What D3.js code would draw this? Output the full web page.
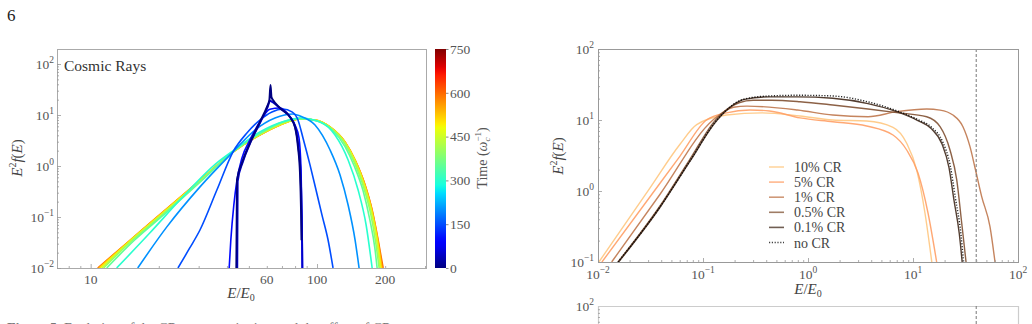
<!DOCTYPE html>
<html>
<head>
<meta charset="utf-8">
<script src="https://cdn.jsdelivr.net/npm/d3@7"></script>
<style>
  body { margin: 0; background: #fff; }
</style>
</head>
<body>
<svg id="fig" width="1032" height="324" font-family="Liberation Serif, DejaVu Serif, Noto Serif, serif" style="font-family: 'Liberation Serif', 'DejaVu Serif', serif"></svg>
<script>
// ---- left panel: CR spectra at successive times, [E/E0, E^2 f(E)]
const crTimes = [600, 550, 500, 450, 400, 350, 300, 200, 150, 100, 50, 0];

const cr_t600 = [[10.74,0.01],[14.88,0.0346],[20.2,0.111],[30.4,0.522],[42.5,1.88],[55.9,4.05],[68.6,6.37],[84.1,8.35],[98.0,7.98],[114.2,5.82],[133.0,2.96],[147.3,1.31],[163.1,0.424],[175.2,0.137],[186.2,0.0354],[195.9,0.01]];
const cr_t550 = [[10.85,0.01],[14.95,0.035],[20.3,0.111],[30.45,0.522],[42.5,1.88],[55.9,4.07],[68.7,6.4],[84.1,8.36],[98.1,7.97],[114.2,5.8],[133.0,2.94],[147.3,1.3],[163.0,0.42],[175.0,0.135],[185.7,0.035],[194.0,0.01]];
const cr_t500 = [[10.98,0.01],[15.0,0.035],[20.35,0.111],[30.5,0.522],[42.5,1.88],[55.9,4.1],[68.8,6.45],[84.1,8.38],[98.2,7.95],[114.3,5.78],[133.0,2.92],[147.2,1.29],[162.6,0.41],[174.6,0.13],[185.0,0.034],[192.0,0.01]];
const cr_t450 = [[11.2,0.01],[15.1,0.035],[20.5,0.11],[30.6,0.52],[42.5,1.89],[55.9,4.15],[69.0,6.6],[84.1,8.4],[98.5,7.9],[114.5,5.7],[133.0,2.85],[147.0,1.25],[162.0,0.40],[174.0,0.125],[184.0,0.033],[190.0,0.01]];
const cr_t400 = [[11.4,0.01],[15.3,0.035],[20.7,0.11],[30.8,0.52],[42.5,1.9],[55.9,4.25],[69.5,6.9],[84.1,8.5],[99.0,7.8],[115.0,5.5],[133.0,2.7],[146.5,1.15],[161.0,0.37],[173.0,0.11],[182.0,0.03],[188.1,0.01]];
const cr_t350 = [[11.77,0.01],[15.6,0.035],[21.0,0.11],[31.0,0.52],[42.5,1.92],[55.9,4.35],[70.0,7.2],[84.1,8.6],[100.0,7.6],[116.0,5.2],[133.0,2.4],[146.0,1.0],[160.0,0.32],[171.0,0.09],[180.0,0.025],[184.3,0.01]];
const cr_t300 = [[13.03,0.01],[18.24,0.0485],[25.5,0.247],[36.1,1.15],[42.5,1.97],[55.9,4.64],[72.2,7.62],[84.1,8.73],[103.1,7.29],[120.1,4.05],[137.2,1.31],[151.9,0.338],[164.8,0.0697],[175.2,0.01]];
const cr_t200 = [[16.14,0.01],[21.7,0.064],[30.4,0.39],[42.5,1.88],[53.2,5.08],[65.2,8.73],[78.3,10.5],[84.1,9.56],[98.0,6.37],[114.2,2.06],[126.4,0.667],[137.2,0.172],[147.3,0.0354],[153.4,0.01]];
const cr_t150 = [[24.3,0.01],[27.4,0.0247],[30.4,0.0556],[36.1,0.338],[42.5,1.88],[49.0,4.44],[55.9,7.98],[63.2,11.5],[70.7,13.1],[77.5,11.5],[82.4,7.98],[86.7,3.54],[93.1,1.05],[99.0,0.338],[105.2,0.109],[111.9,0.0354],[117.7,0.01]];
const cr_t100 = [[40.8,0.008],[41.6,0.035],[42.9,0.172],[44.3,0.531],[46.6,1.44],[50.5,3.24],[55.9,7.29],[61.9,13.0],[68.6,13.7],[75.9,9.3],[79.9,6.4],[83.2,3.6],[85.0,0.835],[85.8,0.0873],[86.3,0.008]];
const cr_t50 = [[44.4,0.008],[44.6,0.5],[47.0,1.2],[50.8,2.9],[56.2,7.3],[60.3,13.8],[62.0,19.0],[63.5,18.0],[68.8,13.5],[76.2,9.0],[80.2,5.7],[82.8,2.3],[84.6,0.7],[85.5,0.13],[85.9,0.03],[86.1,0.008]];
const cr_t0 = [[44.0,0.008],[44.3,0.53],[46.6,1.15],[50.5,2.82],[55.9,7.29],[60.1,14.4],[61.6,19.7],[62.3,38.7],[62.9,22.5],[63.9,19.7],[68.6,13.7],[75.9,9.14],[79.9,5.82],[82.4,2.36],[84.1,0.73],[85.0,0.137],[85.4,0.035]];

const crSeries = [cr_t600, cr_t550, cr_t500, cr_t450, cr_t400, cr_t350, cr_t300, cr_t200, cr_t150, cr_t100, cr_t50, cr_t0];

const leftXTicks = [10, 60, 100, 200];
const leftYExps = [-2, -1, 0, 1, 2];
const cbarTicks = [0, 150, 300, 450, 600, 750];

// ---- right panel: spectra for different CR fractions
const frac10 = [[0.0102,0.1],[0.0313,1.11],[0.0604,4.56],[0.0871,8.6],[0.1675,11.75],[0.365,12.6],[0.839,11.4],[1.72,10.0],[3.62,9.68],[6.45,7.89],[8.71,4.70],[10.84,1.98],[13.0,0.49],[15.1,0.1]];
const frac5 = [[0.0109,0.1],[0.0313,0.83],[0.0604,3.1],[0.108,10.0],[0.1675,12.6],[0.28,13.8],[0.43,13.4],[0.839,10.7],[1.72,9.46],[3.62,8.23],[6.45,6.15],[8.71,3.78],[11.16,1.79],[13.9,0.49],[16.8,0.1]];
const frac1 = [[0.0135,0.1],[0.039,0.9],[0.1245,10.0],[0.195,15.1],[0.262,15.7],[0.794,13.8],[1.72,11.75],[3.73,11.1],[7.0,13.1],[13.5,14.3],[18.1,13.8],[24.0,11.75],[29.9,8.05],[34.9,4.21],[39.0,2.11],[45.1,0.832],[54.1,0.314],[60.4,0.1]];
const frac05 = [[0.0155,0.1],[0.0385,0.6],[0.074,2.7],[0.133,10.2],[0.22,17.5],[0.3,19.0],[0.45,19.0],[0.84,18.1],[1.72,16.3],[3.73,14.3],[7.0,12.7],[13.5,11.1],[18.1,8.05],[22.5,3.78],[26.1,1.43],[29.1,0.354],[32.0,0.1]];
const frac01 = [[0.0157,0.1],[0.039,0.59],[0.0752,2.63],[0.136,9.9],[0.249,19.5],[0.427,21.2],[0.794,21.2],[1.72,20.2],[3.73,17.0],[7.0,13.1],[11.0,9.9],[15.0,7.5],[18.9,4.6],[22.0,2.15],[24.6,0.73],[27.6,0.25],[29.4,0.1]];
const fracNone = [[0.0155,0.1],[0.039,0.6],[0.0752,2.66],[0.136,10.1],[0.249,19.8],[0.427,21.8],[0.794,22.3],[1.72,21.8],[3.73,18.0],[7.0,13.5],[11.0,10.2],[15.0,7.9],[19.2,4.9],[22.6,2.3],[25.4,0.78],[28.5,0.26],[30.3,0.1]];

const fracLabels = ["10% CR", "5% CR", "1% CR", "0.5% CR", "0.1% CR", "no CR"];
const fracSeries = [frac10, frac5, frac1, frac05, frac01, fracNone];
const fracColors = ["#ffc77f", "#ff9f65", "#bf774c", "#7f5032", "#402819", "#000000"];
const cutoffE = 40;

const rightXExps = [-2, -1, 0, 1, 2];
const rightYExps = [-1, 0, 1, 2];

const SERIF = "'Liberation Serif', 'DejaVu Serif', serif";

// ---- helpers
const svg = d3.select("#fig");
svg.append("rect").attr("width", 1032).attr("height", 324).attr("fill", "#fff");

// matplotlib "jet"
const jetR = d3.scaleLinear().domain([0, 0.35, 0.66, 0.89, 1]).range([0, 0, 1, 1, 0.5]).clamp(true);
const jetG = d3.scaleLinear().domain([0, 0.125, 0.375, 0.64, 0.91, 1]).range([0, 0, 1, 1, 0, 0]).clamp(true);
const jetB = d3.scaleLinear().domain([0, 0.11, 0.34, 0.65, 1]).range([0.5, 1, 1, 0, 0]).clamp(true);
const jet = t => d3.rgb(jetR(t) * 255, jetG(t) * 255, jetB(t) * 255).formatHex();

function minorsFor(exps) {
  const out = [];
  exps.forEach(k => { for (let m = 2; m <= 9; m++) out.push(m * Math.pow(10, k)); });
  return out;
}

function txt(parent) {
  return parent.append("text").style("font-family", SERIF);
}

function powLabel(sel, exp) {
  sel.append("tspan").text("10");
  sel.append("tspan").attr("dy", -6).attr("font-size", 9.5).text(String(exp).replace("-", "\u2212"));
}

function frame(box, color) {
  svg.append("rect")
    .attr("x", box.x0 + 0.5).attr("y", box.y0 + 0.5)
    .attr("width", box.x1 - box.x0).attr("height", box.y1 - box.y0)
    .attr("fill", "none").attr("stroke", color || "#aaa").attr("stroke-width", 1);
}

function tickAxis(axis, transform) {
  svg.append("g").attr("transform", transform)
    .call(axis)
    .call(g => g.select(".domain").remove())
    .call(g => g.selectAll(".tick line").attr("stroke", "#999").attr("stroke-width", 0.8));
}

// ================= LEFT PANEL =================
const L = {x0: 57, x1: 426, y0: 49, y1: 268};
const xL = d3.scaleLog().domain([7.1, 303]).range([L.x0, L.x1]);
const yL = d3.scaleLog().domain([0.01, 197]).range([L.y1, L.y0]);

svg.append("clipPath").attr("id", "clipL")
  .append("rect").attr("x", L.x0).attr("y", L.y0).attr("width", L.x1 - L.x0).attr("height", L.y1 - L.y0);

const lineL = d3.line().x(d => xL(d[0])).y(d => yL(d[1])).curve(d3.curveMonotoneX);

svg.append("g").attr("clip-path", "url(#clipL)")
  .selectAll("path").data(crSeries).join("path")
    .attr("d", lineL)
    .attr("fill", "none")
    .attr("stroke", (d, i) => jet(crTimes[i] / 750))
    .attr("stroke-width", (d, i) => crTimes[i] <= 50 ? 2 : 1.6)
    .attr("stroke-linejoin", "round");

frame(L);

// ticks (inward)
tickAxis(d3.axisBottom(xL).tickValues([10, 100]).tickSize(-4).tickFormat(""), `translate(0,${L.y1})`);
tickAxis(d3.axisBottom(xL).tickValues([8, 9, 20, 30, 40, 50, 60, 70, 80, 90, 200, 300]).tickSize(-2).tickFormat(""), `translate(0,${L.y1})`);
tickAxis(d3.axisLeft(yL).tickValues(leftYExps.map(k => Math.pow(10, k))).tickSize(-4).tickFormat(""), `translate(${L.x0},0)`);
tickAxis(d3.axisLeft(yL).tickValues(minorsFor([-2, -1, 0, 1]).concat([100])).tickSize(-2).tickFormat(""), `translate(${L.x0},0)`);

svg.append("g").selectAll("text").data(leftXTicks).join("text")
  .style("font-family", SERIF)
  .attr("x", d => xL(d)).attr("y", 284)
  .attr("text-anchor", "middle").attr("font-size", 13.5).attr("fill", "#555")
  .text(d => d);

svg.append("g").selectAll("text").data(leftYExps).join("text")
  .style("font-family", SERIF)
  .attr("x", 54).attr("y", d => yL(Math.pow(10, d)) + 5)
  .attr("text-anchor", "end").attr("font-size", 13.5).attr("fill", "#555")
  .each(function(d) { powLabel(d3.select(this), d); });

txt(svg).attr("x", 64).attr("y", 71).attr("font-size", 15.5).attr("fill", "#333").text("Cosmic Rays");

// axis labels
function eOverE0(x, y) {
  const t = txt(svg).attr("x", x).attr("y", y).attr("text-anchor", "middle").attr("font-size", 15).attr("fill", "#444");
  t.append("tspan").attr("font-style", "italic").text("E");
  t.append("tspan").text("/");
  t.append("tspan").attr("font-style", "italic").text("E");
  t.append("tspan").attr("dy", 3).attr("font-size", 10).text("0");
}
function e2fE(x, y) {
  const t = txt(svg).attr("transform", `translate(${x},${y}) rotate(-90)`)
    .attr("text-anchor", "middle").attr("font-size", 15).attr("fill", "#444");
  t.append("tspan").attr("font-style", "italic").text("E");
  t.append("tspan").attr("dy", -6).attr("font-size", 10).text("2");
  t.append("tspan").attr("dy", 6).attr("font-style", "italic").text("f");
  t.append("tspan").text("(");
  t.append("tspan").attr("font-style", "italic").text("E");
  t.append("tspan").text(")");
}
eOverE0(241, 298);
e2fE(22, 158);

// colorbar
const CB = {x0: 435, x1: 446, y0: 49, y1: 268};
const cbScale = d3.scaleLinear().domain([0, 750]).range([CB.y1, CB.y0]);
const grad = svg.append("defs").append("linearGradient").attr("id", "jetGrad")
  .attr("x1", 0).attr("y1", 1).attr("x2", 0).attr("y2", 0);
grad.selectAll("stop").data(d3.range(0, 1.0001, 0.02)).join("stop")
  .attr("offset", d => d).attr("stop-color", d => jet(d));
svg.append("rect").attr("x", CB.x0).attr("y", CB.y0).attr("width", CB.x1 - CB.x0).attr("height", CB.y1 - CB.y0)
  .attr("fill", "url(#jetGrad)");
svg.append("g").attr("transform", `translate(${CB.x1},0)`)
  .call(d3.axisRight(cbScale).tickValues(cbarTicks).tickSize(2.5).tickPadding(1.5))
  .call(g => g.attr("font-family", null))
  .call(g => g.select(".domain").remove())
  .call(g => g.selectAll(".tick line").attr("stroke", "#888"))
  .call(g => g.selectAll(".tick text").style("font-family", SERIF).attr("font-size", 13.5).attr("fill", "#555"));

const cbl = txt(svg).attr("transform", `translate(487,158) rotate(-90)`)
  .attr("text-anchor", "middle").attr("font-size", 14).attr("fill", "#555");
cbl.append("tspan").text("Time (");
cbl.append("tspan").attr("font-style", "italic").text("\u03c9");
cbl.append("tspan").attr("dy", 3).attr("font-size", 9).attr("font-style", "italic").text("c");
cbl.append("tspan").attr("dx", -4).attr("dy", -9).attr("font-size", 9).text("\u22121");
cbl.append("tspan").attr("dy", 6).text(")");

// ================= RIGHT PANEL =================
const R = {x0: 598, x1: 1018, y0: 49, y1: 262};
const xR = d3.scaleLog().domain([0.01, 100]).range([R.x0, R.x1]);
const yR = d3.scaleLog().domain([0.1, 100]).range([R.y1, R.y0]);

svg.append("clipPath").attr("id", "clipR")
  .append("rect").attr("x", R.x0).attr("y", R.y0).attr("width", R.x1 - R.x0).attr("height", R.y1 - R.y0);

const lineR = d3.line().x(d => xR(d[0])).y(d => yR(d[1])).curve(d3.curveMonotoneX);

svg.append("g").attr("clip-path", "url(#clipR)")
  .selectAll("path").data(fracSeries).join("path")
    .attr("d", lineR)
    .attr("fill", "none")
    .attr("stroke", (d, i) => fracColors[i])
    .attr("stroke-opacity", (d, i) => i === 5 ? 0.85 : 0.9)
    .attr("stroke-width", 1.4)
    .attr("stroke-dasharray", (d, i) => i === 5 ? "1.2,1.6" : null);

// cutoff line
svg.append("line").attr("x1", xR(cutoffE)).attr("x2", xR(cutoffE)).attr("y1", R.y0).attr("y2", R.y1)
  .attr("stroke", "#777").attr("stroke-width", 1).attr("stroke-dasharray", "3,2");

frame(R, "#999");

tickAxis(d3.axisBottom(xR).tickValues(rightXExps.map(k => Math.pow(10, k))).tickSize(-4).tickFormat(""), `translate(0,${R.y1})`);
tickAxis(d3.axisBottom(xR).tickValues(minorsFor([-2, -1, 0, 1])).tickSize(-2).tickFormat(""), `translate(0,${R.y1})`);
tickAxis(d3.axisLeft(yR).tickValues(rightYExps.map(k => Math.pow(10, k))).tickSize(-4).tickFormat(""), `translate(${R.x0},0)`);
tickAxis(d3.axisLeft(yR).tickValues(minorsFor([-1, 0, 1])).tickSize(-2).tickFormat(""), `translate(${R.x0},0)`);

svg.append("g").selectAll("text").data(rightXExps).join("text")
  .style("font-family", SERIF)
  .attr("x", d => xR(Math.pow(10, d))).attr("y", 279)
  .attr("text-anchor", "middle").attr("font-size", 13.5).attr("fill", "#555")
  .each(function(d) { powLabel(d3.select(this), d); });

svg.append("g").selectAll("text").data(rightYExps).join("text")
  .style("font-family", SERIF)
  .attr("x", 594).attr("y", d => yR(Math.pow(10, d)) + 5)
  .attr("text-anchor", "end").attr("font-size", 13.5).attr("fill", "#555")
  .each(function(d) { powLabel(d3.select(this), d); });

eOverE0(808, 294);
e2fE(563, 156);

// legend
const leg = svg.append("g").selectAll("g").data(fracLabels).join("g")
  .attr("transform", (d, i) => `translate(0,${167 + i * 15.1})`);
leg.append("line").attr("x1", 769).attr("x2", 784).attr("y1", 0).attr("y2", 0)
  .attr("stroke", (d, i) => fracColors[i]).attr("stroke-opacity", 0.75)
  .attr("stroke-width", 1.6)
  .attr("stroke-dasharray", (d, i) => i === 5 ? "1.2,1.6" : null);
leg.append("text").style("font-family", SERIF)
  .attr("x", 794).attr("y", 5).attr("font-size", 14).attr("fill", "#444").text(d => d);

// ================= lower right panel (cut off) =================
const R2top = 306;
const yR2 = d3.scaleLog().domain([0.1, 100]).range([R2top + 213, R2top]);
svg.append("path")
  .attr("d", `M${R.x0 + 0.5},330V${R2top + 0.5}H${R.x1 + 0.5}V330`)
  .attr("fill", "none").attr("stroke", "#ccc").attr("stroke-width", 1.2);
tickAxis(d3.axisLeft(yR2).tickValues([60, 70, 80, 90]).tickSize(-2).tickFormat(""), `translate(${R.x0},0)`);
svg.append("line").attr("x1", xR(cutoffE)).attr("x2", xR(cutoffE)).attr("y1", R2top).attr("y2", 324)
  .attr("stroke", "#777").attr("stroke-width", 1).attr("stroke-dasharray", "3,2");
txt(svg).attr("x", 594).attr("y", yR2(100) + 5)
  .attr("text-anchor", "end").attr("font-size", 13.5).attr("fill", "#555")
  .call(t => powLabel(t, 2));

// page number and caption (caption is cut by the page edge)
txt(svg).attr("x", 7).attr("y", 21).attr("font-size", 17).attr("fill", "#222").text("6");
const cap = txt(svg).attr("x", 7).attr("y", 333).attr("font-size", 14).attr("fill", "#777");
cap.append("tspan").attr("font-weight", "bold").text("Figure 5.");
cap.append("tspan").text("  Evolution of the CR spectrum in time and the effect of CR");
</script>
</body>
</html>
